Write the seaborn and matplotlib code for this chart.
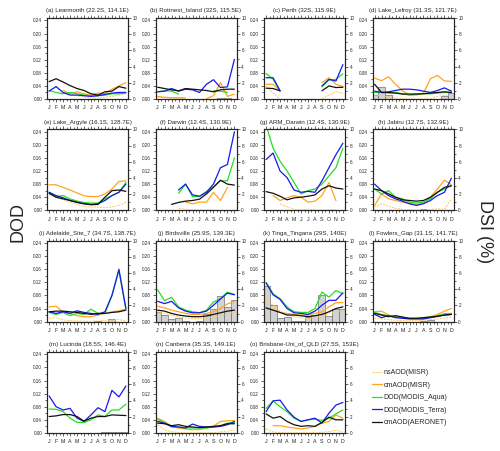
import numpy as np
import pandas as pd
import matplotlib
matplotlib.use("Agg")
import matplotlib.pyplot as plt
import seaborn as sns
from matplotlib.lines import Line2D
from matplotlib.ticker import MultipleLocator

N = np.nan
months = ["J", "F", "M", "A", "M", "J", "J", "A", "S", "O", "N", "D"]

titles = [
    "(a) Learmonth (22.2S, 114.1E)", "(b) Rottnest_Island (32S, 115.5E)",
    "(c) Perth (32S, 115.9E)", "(d) Lake_Lefroy (31.3S, 121.7E)",
    "(e) Lake_Argyle (16.1S, 128.7E)", "(f) Darwin (12.4S, 130.9E)",
    "(g) ARM_Darwin (12.4S, 130.9E)", "(h) Jabiru (12.7S, 132.9E)",
    "(i) Adelaide_Site_7 (34.7S, 138.7E)", "(j) Birdsville (25.9S, 139.3E)",
    "(k) Tinga_Tingana (29S, 140E)", "(l) Fowlers_Gap (31.1S, 141.7E)",
    "(m) Lucinda (18.5S, 146.4E)", "(n) Canberra (35.3S, 149.1E)",
    "(o) Brisbane-Uni_of_QLD (27.5S, 153E)",
]

ns_aod = [
    [N, N, 0.02, 0.014, 0.01, 0.006, 0.003, 0.003, 0.005, 0.008, 0.012, 0.016],
    [0.006, 0.004, 0.003, 0.002, 0.002, N, N, N, N, N, N, N],
    [0.04, 0.018, 0.0, N, N, N, N, N, 0.0, 0.012, 0.022, 0.018],
    [0.012, 0.01, 0.007, 0.003, 0.001, 0.0, 0.0, 0.0, 0.001, 0.008, 0.012, 0.01],
    [0.048, 0.04, 0.032, 0.025, 0.018, 0.012, 0.01, 0.01, 0.008, 0.01, 0.015, 0.025],
    [N, N, N, 0.006, 0.003, 0.002, 0.001, 0.001, 0.002, N, N, N],
    [N, N, 0.02, 0.01, 0.003, 0.001, 0.004, 0.001, 0.001, 0.002, 0.003, N],
    [0.01, 0.02, 0.012, 0.006, 0.003, 0.002, 0.001, 0.001, 0.002, 0.005, 0.003, 0.035],
    [0.01, 0.012, 0.005, 0.003, 0.002, 0.001, 0.001, 0.002, 0.003, 0.004, 0.006, 0.002],
    [0.03, 0.026, 0.02, 0.015, 0.011, 0.009, 0.009, 0.011, 0.014, 0.018, 0.024, 0.028],
    [0.065, 0.05, 0.032, 0.022, 0.015, 0.012, 0.01, 0.012, 0.018, 0.025, 0.03, 0.035],
    [0.01, 0.008, 0.006, 0.004, 0.003, 0.003, 0.003, 0.004, 0.006, 0.008, 0.011, 0.014],
    [N, N, N, N, N, N, N, N, N, N, N, N],
    [0.025, 0.01, 0.003, 0.001, 0.0, 0.0, 0.0, 0.0, 0.001, 0.003, 0.006, 0.008],
    [0.012, 0.003, 0.001, 0.0, 0.0, 0.0, 0.0, 0.0, 0.002, 0.004, 0.008, 0.003],
]

cm_aod_misr = [
    [N, N, 0.026, 0.016, 0.022, 0.016, 0.012, 0.018, 0.016, 0.03, 0.04, 0.05],
    [0.008, 0.005, 0.004, 0.004, 0.003, N, N, 0.001, 0.01, 0.05, 0.008, 0.015],
    [0.045, 0.045, 0.025, N, N, N, N, N, 0.05, 0.065, 0.045, 0.038],
    [0.064, 0.056, 0.068, 0.045, 0.025, 0.012, 0.012, 0.018, 0.062, 0.072, 0.055, 0.054],
    [0.078, 0.078, 0.07, 0.062, 0.053, 0.044, 0.042, 0.042, 0.05, 0.065, 0.088, 0.09],
    [N, N, N, N, 0.025, 0.02, 0.025, 0.025, 0.055, 0.03, 0.07, N],
    [N, 0.045, 0.03, 0.038, 0.045, 0.04, 0.025, 0.028, 0.045, 0.085, 0.03, N],
    [0.015, 0.05, 0.035, 0.03, 0.025, 0.02, 0.018, 0.022, 0.04, 0.065, 0.092, 0.078],
    [0.045, 0.047, 0.03, 0.025, 0.018, 0.015, 0.015, 0.02, 0.025, 0.03, 0.033, 0.038],
    [0.047, 0.042, 0.035, 0.03, 0.025, 0.022, 0.022, 0.025, 0.03, 0.04, 0.054, 0.062],
    [0.04, 0.035, 0.028, 0.025, 0.022, 0.02, 0.02, 0.025, 0.03, 0.045, 0.058, 0.058],
    [0.03, 0.032, 0.02, 0.015, 0.012, 0.01, 0.01, 0.012, 0.015, 0.022, 0.032, 0.04],
    [N, N, N, N, N, N, N, N, N, N, N, N],
    [0.045, 0.035, 0.02, 0.015, 0.012, 0.01, 0.01, 0.015, 0.02, 0.035, 0.037, 0.038],
    [N, 0.022, 0.022, 0.018, 0.015, 0.012, 0.015, 0.02, 0.03, 0.035, 0.055, 0.045],
]

dod_aqua = [
    [0.026, 0.02, 0.016, 0.02, 0.016, 0.012, 0.01, 0.01, 0.012, 0.016, 0.016, 0.018],
    [0.022, 0.025, 0.024, 0.015, N, N, N, N, 0.025, 0.024, 0.02, N],
    [0.078, 0.06, 0.025, N, N, N, N, N, 0.037, 0.058, 0.06, 0.077],
    [0.02, 0.02, 0.018, 0.02, 0.016, 0.012, 0.016, 0.016, 0.016, 0.018, 0.02, 0.02],
    [0.055, 0.042, 0.045, 0.035, 0.028, 0.024, 0.022, 0.022, 0.035, 0.045, 0.055, 0.085],
    [N, N, N, 0.052, 0.08, 0.042, 0.042, 0.058, 0.072, 0.09, 0.09, 0.16],
    [0.26, 0.19, 0.15, 0.12, 0.085, 0.05, 0.06, 0.065, 0.08, 0.105, 0.13, 0.19],
    [0.065, 0.05, 0.06, 0.04, 0.035, 0.025, 0.022, 0.025, 0.035, 0.055, 0.065, 0.075],
    [0.028, 0.022, 0.028, 0.018, 0.025, 0.022, 0.038, 0.025, 0.025, 0.08, 0.155, 0.038],
    [0.097, 0.064, 0.074, 0.045, 0.035, 0.03, 0.027, 0.035, 0.06, 0.07, 0.09, 0.083],
    [0.12, 0.085, 0.07, 0.045, 0.03, 0.028, 0.028, 0.04, 0.09, 0.075, 0.095, 0.085],
    [0.028, 0.022, 0.018, 0.014, 0.012, 0.01, 0.01, 0.01, 0.014, 0.018, 0.024, 0.025],
    [0.073, 0.072, 0.065, 0.045, 0.032, 0.032, 0.04, 0.055, 0.05, 0.07, 0.07, 0.088],
    [0.042, 0.03, 0.018, 0.018, 0.015, 0.015, 0.015, 0.015, 0.018, 0.022, 0.03, 0.032],
    [0.075, 0.097, 0.08, 0.065, 0.045, 0.035, 0.04, 0.042, 0.038, 0.045, 0.058, 0.07],
]

dod_terra = [
    [0.024, 0.038, 0.02, 0.012, 0.012, 0.01, 0.008, 0.01, 0.014, 0.018, 0.02, 0.02],
    [0.022, 0.024, 0.032, 0.024, 0.03, 0.028, 0.02, 0.045, 0.059, 0.035, 0.037, 0.121],
    [0.065, 0.065, 0.025, N, N, N, N, N, 0.04, 0.06, 0.055, 0.105],
    [0.024, 0.02, 0.022, 0.026, 0.03, 0.03, 0.028, 0.024, 0.02, 0.026, 0.034, 0.024],
    [0.055, 0.045, 0.038, 0.03, 0.025, 0.02, 0.018, 0.02, 0.03, 0.045, 0.055, 0.08],
    [N, N, N, 0.062, 0.08, 0.047, 0.043, 0.055, 0.08, 0.13, 0.14, 0.24],
    [0.155, 0.175, 0.12, 0.1, 0.062, 0.055, 0.058, 0.055, 0.09, 0.13, 0.17, 0.205],
    [0.08, 0.06, 0.045, 0.035, 0.028, 0.02, 0.015, 0.02, 0.03, 0.045, 0.055, 0.098],
    [0.03, 0.025, 0.03, 0.025, 0.033, 0.028, 0.025, 0.022, 0.03, 0.08, 0.16, 0.04],
    [0.062, 0.055, 0.062, 0.042, 0.032, 0.027, 0.027, 0.032, 0.05, 0.069, 0.087, 0.082],
    [0.118, 0.082, 0.068, 0.04, 0.027, 0.025, 0.022, 0.032, 0.05, 0.065, 0.065, 0.088],
    [0.022, 0.012, 0.018, 0.012, 0.01, 0.008, 0.008, 0.008, 0.012, 0.016, 0.02, 0.022],
    [0.113, 0.08, 0.07, 0.075, 0.045, 0.035, 0.055, 0.077, 0.065, 0.13, 0.11, 0.143],
    [0.035, 0.03, 0.02, 0.018, 0.015, 0.027, 0.02, 0.018, 0.018, 0.02, 0.025, 0.035],
    [0.065, 0.098, 0.1, 0.07, 0.048, 0.035, 0.04, 0.045, 0.03, 0.06, 0.085, 0.093],
]

cm_aod_aeronet = [
    [0.053, 0.062, 0.052, 0.041, 0.032, 0.026, 0.016, 0.012, 0.022, 0.024, 0.038, 0.033],
    [0.036, 0.032, 0.028, 0.025, 0.032, 0.03, 0.028, 0.026, 0.022, 0.028, 0.03, 0.03],
    [0.033, 0.032, 0.025, N, N, N, N, N, 0.025, 0.04, 0.035, 0.036],
    [0.045, 0.02, 0.02, 0.018, 0.015, 0.015, 0.015, 0.016, 0.018, 0.02, 0.022, 0.02],
    [0.052, 0.04, 0.035, 0.03, 0.024, 0.02, 0.017, 0.018, 0.04, 0.06, 0.062, 0.058],
    [N, N, 0.018, 0.024, 0.028, 0.03, 0.034, 0.05, 0.07, 0.092, 0.08, 0.077],
    [0.057, 0.052, 0.043, 0.032, 0.038, 0.04, 0.043, 0.047, 0.065, 0.075, 0.068, 0.065],
    [0.065, 0.06, 0.05, 0.04, 0.032, 0.03, 0.028, 0.03, 0.04, 0.055, 0.07, 0.075],
    [0.03, 0.032, 0.032, 0.03, 0.028, 0.025, 0.022, 0.025, 0.025, 0.028, 0.03, 0.035],
    [0.035, 0.032, 0.025, 0.02, 0.017, 0.015, 0.015, 0.017, 0.022, 0.027, 0.032, 0.035],
    [0.042, 0.035, 0.028, 0.02, 0.02, 0.018, 0.015, 0.018, 0.022, 0.03, 0.04, 0.045],
    [0.025, 0.02, 0.015, 0.018, 0.014, 0.01, 0.01, 0.012, 0.014, 0.016, 0.02, 0.022],
    [0.05, 0.052, 0.056, 0.056, 0.05, 0.036, 0.045, 0.05, 0.05, 0.055, 0.054, 0.053],
    [0.03, 0.028, 0.022, 0.025, 0.02, 0.018, 0.016, 0.018, 0.02, 0.022, 0.028, 0.028],
    [0.058, 0.045, 0.05, 0.035, 0.025, 0.02, 0.022, 0.02, 0.032, 0.048, 0.04, 0.04],
]

dsi = [
    [0] * 12,
    [0, 0, 0, 0, 0, 0, 0, 0, 0.05, 0.15, 0.1, 0],
    [0] * 12,
    [0.5, 1.5, 0.5, 0, 0, 0, 0, 0, 0, 0.05, 0.4, 0.7],
    [0] * 12,
    [0] * 12,
    [0, 0, 0, 0, 0, 0, 0, 0.05, 0.05, 0, 0, 0],
    [0, 0, 0, 0, 0, 0, 0, 0.1, 0, 0, 0, 0],
    [0, 0, 0, 0, 0, 0, 0, 0.05, 0, 0.3, 0, 0],
    [1.2, 0.8, 0.3, 0.5, 0.1, 0, 0.05, 0.9, 1.5, 3.1, 1.8, 2.7],
    [4.4, 2.1, 0.4, 0.6, 0.05, 0.05, 0.6, 0.8, 3.3, 0.7, 1.5, 1.6],
    [0, 0, 0, 0, 0, 0, 0, 0.05, 0.2, 0, 0, 0],
    [0, 0, 0, 0, 0, 0, 0, 0, 0.05, 0.05, 0.05, 0.05],
    [0] * 12,
    [0] * 12,
]

series_names = ["nsAOD(MISR)", "cmAOD(MISR)", "DOD(MODIS_Aqua)",
                "DOD(MODIS_Terra)", "cmAOD(AERONET)"]
series_data = [ns_aod, cm_aod_misr, dod_aqua, dod_terra, cm_aod_aeronet]
colors = ["#FFC55A", "#FFA520", "#22E022", "#1818F0", "#111111"]
styles = [(0, (2.0, 1.2)), "-", "-", "-", "-"]
widths = [0.7, 0.9, 0.9, 0.9, 0.9]

sns.set_style("ticks")
plt.rcParams["font.family"] = ["Liberation Sans", "DejaVu Sans"]

W, H = 500, 451
fig = plt.figure(figsize=(W / 100, H / 100), dpi=100)
x_idx = np.arange(12)


def segments(vals):
    vals = np.asarray(vals, dtype=float)
    seg = []
    for i, v in enumerate(vals):
        if np.isnan(v):
            if seg:
                yield seg
            seg = []
        else:
            seg.append(i)
    if seg:
        yield seg


for i, title in enumerate(titles):
    r, c = divmod(i, 4)
    left = 47 + c * 108.5
    top = 18 + r * 111.3
    ax = fig.add_axes([left / W, 1 - (top + 81) / H, 81 / W, 81 / H])
    ax2 = ax.twinx()

    bar_df = pd.DataFrame({"m": x_idx, "dsi": dsi[i]})
    sns.barplot(data=bar_df, x="m", y="dsi", ax=ax2, native_scale=True,
                width=1.0, color="#d2d2d2", edgecolor="#6e6e6e",
                linewidth=0.5, saturation=1, errorbar=None)

    ax.set_zorder(ax2.get_zorder() + 1)
    ax.patch.set_visible(False)

    for name, data, col, ls, lw in zip(series_names, series_data, colors, styles, widths):
        vals = np.asarray(data[i], dtype=float)
        for seg in segments(vals):
            if len(seg) < 2:
                continue
            sdf = pd.DataFrame({"m": x_idx[seg], "v": vals[seg]})
            sns.lineplot(data=sdf, x="m", y="v", ax=ax, color=col,
                         linewidth=lw, linestyle=ls, estimator=None)

    ax.set_xlim(-0.3, 11.3)
    ax2.set_xlim(-0.3, 11.3)
    ax.set_ylim(0, 0.2475)
    ax2.set_ylim(0, 10)
    ax.set_xlabel("")
    ax.set_ylabel("")
    ax2.set_xlabel("")
    ax2.set_ylabel("")

    ax.set_xticks(x_idx)
    ax.set_xticklabels(months, fontsize=3.8)
    ax.xaxis.set_minor_locator(MultipleLocator(0.5))
    ax.set_yticks(np.arange(0, 0.241, 0.04))
    ax.set_yticklabels([f"{v:.2f}" for v in np.arange(0, 0.241, 0.04)], fontsize=3.3)
    ax.yaxis.set_minor_locator(MultipleLocator(0.02))
    ax2.set_yticks(range(0, 11, 2))
    ax2.set_yticklabels([str(v) for v in range(0, 11, 2)], fontsize=3.3)
    ax2.yaxis.set_minor_locator(MultipleLocator(1))

    ax.tick_params(axis="x", which="both", top=True, direction="out",
                   length=2, width=0.5, pad=2.5)
    ax.tick_params(axis="x", which="minor", length=1.2)
    ax.tick_params(axis="y", which="both", direction="out", length=2,
                   width=0.5, pad=1.5)
    ax.tick_params(axis="y", which="minor", length=1.2)
    ax2.tick_params(axis="y", which="both", direction="out", length=2,
                    width=0.5, pad=1.5)
    ax2.tick_params(axis="y", which="minor", length=1.2)
    ax2.tick_params(axis="x", which="both", bottom=False, top=False,
                    labelbottom=False)
    for sp in ax.spines.values():
        sp.set_linewidth(0.8)
    for sp in ax2.spines.values():
        sp.set_linewidth(0.8)

    ax.set_title(title, fontsize=4.4, pad=4)

fig.text(18 / W, 1 - 222 / H, "DOD", rotation=90, fontsize=13,
         ha="center", va="center")
fig.text(484 / W, 1 - 232 / H, "DSI (%)", rotation=270, fontsize=13,
         ha="center", va="center")

handles = [Line2D([0], [0], color=col, lw=lw, linestyle=ls)
           for col, ls, lw in zip(colors, styles, widths)]
fig.legend(handles, series_names, loc="upper left",
           bbox_to_anchor=(372 / W, 1 - 369 / H), frameon=False,
           fontsize=5, handlelength=1.5, handletextpad=0.2,
           labelspacing=0.8, borderaxespad=0, borderpad=0)

fig.savefig("out.png", dpi=100)
